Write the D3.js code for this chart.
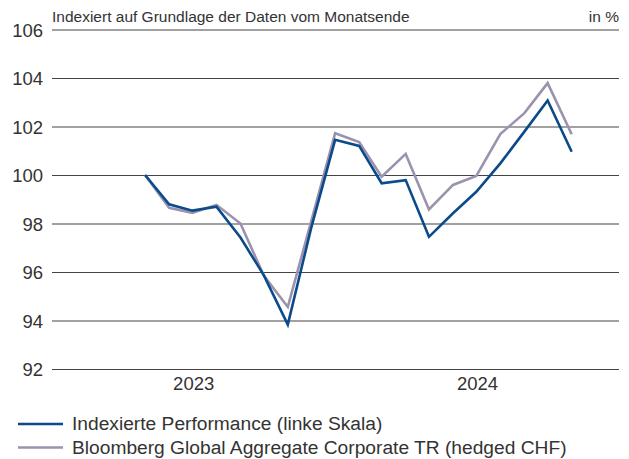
<!DOCTYPE html>
<html>
<head>
<meta charset="utf-8">
<script src="https://d3js.org/d3.v7.min.js"></script>
<style>
  body { margin: 0; background: #fff; }
  svg text { font-family: "Liberation Sans", Arial, sans-serif; fill: #333; }
</style>
</head>
<body>
<svg id="chart" width="629" height="459"></svg>
<script>
// month-end dates (Apr 2023 .. Oct 2024)
var months = ["2023-04-30","2023-05-31","2023-06-30","2023-07-31","2023-08-31","2023-09-30",
              "2023-10-31","2023-11-30","2023-12-31","2024-01-31","2024-02-29","2024-03-31",
              "2024-04-30","2024-05-31","2024-06-30","2024-07-31","2024-08-31","2024-09-30","2024-10-31"];
var performance = [100, 98.79, 98.53, 98.69, 97.42, 95.87, 93.83, 97.8, 101.45, 101.2,
                   99.66, 99.79, 97.45, 98.42, 99.31, 100.48, 101.79, 103.07, 100.96];
var benchmark   = [100, 98.65, 98.44, 98.77, 98.0, 95.85, 94.56, 98.07, 101.72, 101.36,
                   99.93, 100.87, 98.58, 99.59, 99.96, 101.69, 102.55, 103.79, 101.68];
var yTicks = [92, 94, 96, 98, 100, 102, 104, 106];
var yearTicks = ["2023-07-01", "2024-07-01"];
var seriesNames = ["Indexierte Performance (linke Skala)",
                   "Bloomberg Global Aggregate Corporate TR (hedged CHF)"];
var seriesColors = ["#0b4a8b", "#9b93ae"];

var parse = d3.timeParse("%Y-%m-%d");
var svg = d3.select("#chart");

var x = d3.scaleTime()
    .domain([parse("2022-12-31"), parse("2024-12-31")])
    .range([52, 619]);
var y = d3.scaleLinear()
    .domain([92, 106])
    .range([369, 29.5]);

// gridlines + y labels
var yAxis = svg.append("g")
    .attr("transform", "translate(52,0)")
    .call(d3.axisLeft(y).tickValues(yTicks).tickSize(-567).tickPadding(9));
yAxis.select(".domain").remove();
yAxis.selectAll("line").attr("stroke", "#444").attr("stroke-width", 1.2);
yAxis.selectAll("text").style("font-size", "18.5px").attr("fill", "#333").attr("dy", "0.36em");

// x labels
var xAxis = svg.append("g")
    .attr("transform", "translate(0,369)")
    .call(d3.axisBottom(x).tickValues(yearTicks.map(parse)).tickFormat(d3.timeFormat("%Y")).tickSize(0).tickPadding(8));
xAxis.select(".domain").remove();
xAxis.selectAll("text").style("font-size", "18.5px").attr("fill", "#333");

// header
svg.append("text").attr("x", 52).attr("y", 22).style("font-size", "15.5px").text("Indexiert auf Grundlage der Daten vom Monatsende");
svg.append("text").attr("x", 619).attr("y", 22).attr("text-anchor", "end").style("font-size", "15.5px").text("in %");

// lines
var line = d3.line()
    .x(function(d) { return x(parse(d.date)); })
    .y(function(d) { return y(d.value); });

[benchmark, performance].forEach(function(vals, i) {
    var data = months.map(function(m, j) { return { date: m, value: vals[j] }; });
    svg.append("path")
        .datum(data)
        .attr("fill", "none")
        .attr("stroke", i === 0 ? seriesColors[1] : seriesColors[0])
        .attr("stroke-width", 2.6)
        .attr("stroke-linejoin", "miter")
        .attr("d", line);
});

// legend
var legend = svg.append("g");
seriesNames.forEach(function(name, i) {
    var yy = 424 + i * 23.5;
    legend.append("line")
        .attr("x1", 18).attr("x2", 63).attr("y1", yy).attr("y2", yy)
        .attr("stroke", seriesColors[i]).attr("stroke-width", 2.6);
    legend.append("text")
        .attr("x", 72).attr("y", yy).attr("dy", "0.33em")
        .style("font-size", "19.2px")
        .text(name);
});
</script>
</body>
</html>
